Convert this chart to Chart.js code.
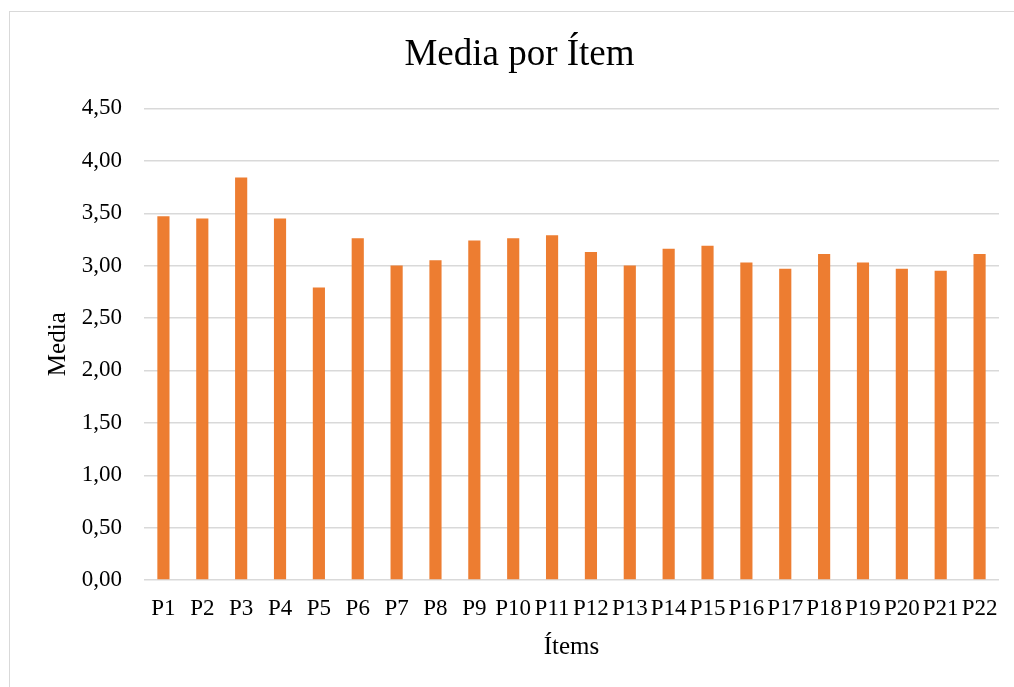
<!DOCTYPE html>
<html>
<head>
<meta charset="utf-8">
<script src="https://cdn.jsdelivr.net/npm/chart.js@4/dist/chart.umd.min.js"></script>
<style>
  html, body { margin: 0; padding: 0; overflow: hidden; background: #fff; }
  #c { display: block; }
</style>
</head>
<body>
<canvas id="c" width="1040" height="687"></canvas>
<script>
// Items and their mean scores
const items = ['P1','P2','P3','P4','P5','P6','P7','P8','P9','P10','P11',
               'P12','P13','P14','P15','P16','P17','P18','P19','P20','P21','P22'];
const means = [3.47, 3.45, 3.84, 3.45, 2.79, 3.26, 3.00, 3.05, 3.24, 3.26, 3.29,
               3.13, 3.00, 3.16, 3.19, 3.03, 2.97, 3.11, 3.03, 2.97, 2.95, 3.11];
const yMin = 0, yMax = 4.5, yStep = 0.5;

const FONT = '"Liberation Serif", "Times New Roman", serif';

// Thin grey frame around the chart
const framePlugin = {
  id: 'frame',
  beforeDraw(chart) {
    const ctx = chart.ctx;
    ctx.save();
    ctx.strokeStyle = '#d9d9d9';
    ctx.lineWidth = 1;
    ctx.strokeRect(9.5, 11.5, chart.width + 20, chart.height + 20);
    ctx.restore();
  }
};

new Chart(document.getElementById('c'), {
  type: 'bar',
  data: {
    labels: items,
    datasets: [{
      label: 'Media',
      data: means,
      backgroundColor: '#ED7D31',
      borderWidth: 0,
      categoryPercentage: 1.0,
      barPercentage: 0.313
    }]
  },
  options: {
    responsive: false,
    animation: false,
    devicePixelRatio: 1,
    layout: { padding: { left: 40, right: 41, top: 0, bottom: 0 } },
    plugins: {
      legend: { display: false },
      tooltip: { enabled: false },
      title: {
        display: true,
        text: 'Media por Ítem',
        color: '#000',
        font: { family: FONT, size: 37, weight: 'normal' },
        padding: { top: 33, bottom: 31 }
      }
    },
    scales: {
      x: {
        grid: { display: false, drawTicks: false },
        border: { display: false },
        ticks: {
          color: '#000',
          font: { family: FONT, size: 23 },
          padding: 15,
          maxRotation: 0,
          autoSkip: false
        },
        title: {
          display: true,
          text: 'Ítems',
          color: '#000',
          font: { family: FONT, size: 25 },
          padding: { top: 0, bottom: 25 }
        },
        afterFit(scale) { scale.height = 107; }
      },
      y: {
        min: yMin,
        max: yMax,
        grid: { color: '#d9d9d9', lineWidth: 1.4, drawTicks: false },
        border: { display: false },
        ticks: {
          stepSize: yStep,
          color: '#000',
          font: { family: FONT, size: 23 },
          padding: 22,
          callback: v => v.toFixed(2).replace('.', ',')
        },
        title: {
          display: true,
          text: 'Media',
          color: '#000',
          font: { family: FONT, size: 25 },
          padding: { top: 3, bottom: 0 }
        },
        afterFit(scale) { scale.width = 104; }
      }
    }
  },
  plugins: [framePlugin]
});
</script>
</body>
</html>
